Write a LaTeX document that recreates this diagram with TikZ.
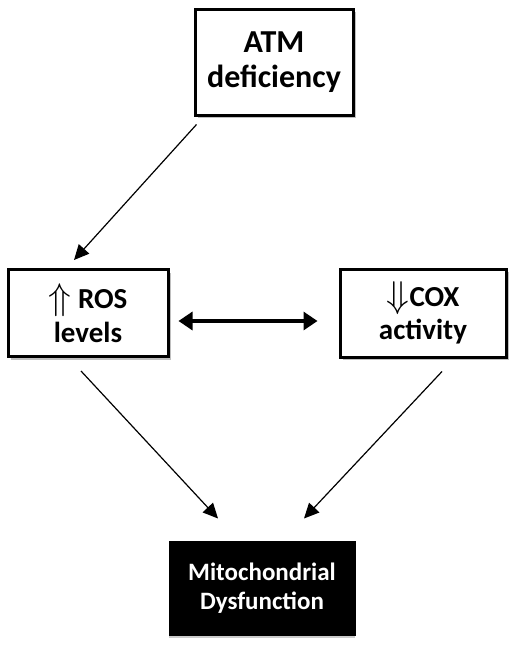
\documentclass[tikz,border=0pt]{standalone}
\usepackage{fontspec}
\setmainfont{Carlito}
\usetikzlibrary{arrows.meta,shadows}
\newcommand{\bigup}{\raisebox{-1pt}{\scalebox{1.5}{$\Uparrow$}}}
\newcommand{\bigdown}{\raisebox{-1pt}{\scalebox{1.5}{$\Downarrow$}}}
\tikzset{
  box/.style={draw=black, line width=3pt, fill=white, align=center, inner sep=0pt,
    font=\bfseries, drop shadow={shadow xshift=3pt, shadow yshift=-3pt, fill=black!25, opacity=1}},
  darkbox/.style={draw=black, line width=1pt, fill=black, text=white, align=center, inner sep=0pt,
    font=\bfseries, drop shadow={shadow xshift=0pt, shadow yshift=-3pt, fill=black!20, opacity=1}},
  thinarr/.style={line width=1.2pt, -{Triangle[length=15pt,width=14pt]}},
  thickarr/.style={line width=3.2pt, {Triangle[length=14pt,width=18pt]}-{Triangle[length=14pt,width=18pt]}}
}
\begin{document}
\begin{tikzpicture}[x=1pt,y=-1pt]
\useasboundingbox (0,0) rectangle (519,645);
\node[box, minimum width=158pt, minimum height=106pt,
  font=\fontsize{32}{35}\selectfont\bfseries] (atm) at (274,62) {ATM\\deficiency};
\node[box, minimum width=160pt, minimum height=87pt,
  font=\fontsize{29}{34}\selectfont\bfseries] (ros) at (88,313) {\bigup\ ROS\\levels};
\node[box, minimum width=166pt, minimum height=88pt,
  font=\fontsize{29}{33}\selectfont\bfseries] (cox) at (423,313) {\bigdown COX\\activity};
\node[darkbox, minimum width=186pt, minimum height=94pt,
  font=\fontsize{25}{29}\selectfont\bfseries] (mito) at (262,588) {Mitochondrial\\Dysfunction};
\draw[thinarr] ([shift={(3,8)}]atm.south west) -- ([shift={(-14,-8)}]ros.north);
\draw[thinarr] ([shift={(-7,13)}]ros.south) -- ([shift={(-44,-22)}]mito.north);
\draw[thinarr] ([shift={(19,13)}]cox.south) -- ([shift={(42,-22)}]mito.north);
\draw[thickarr] ([shift={(9,8)}]ros.east) -- ([shift={(-21,8)}]cox.west);
\end{tikzpicture}
\end{document}
